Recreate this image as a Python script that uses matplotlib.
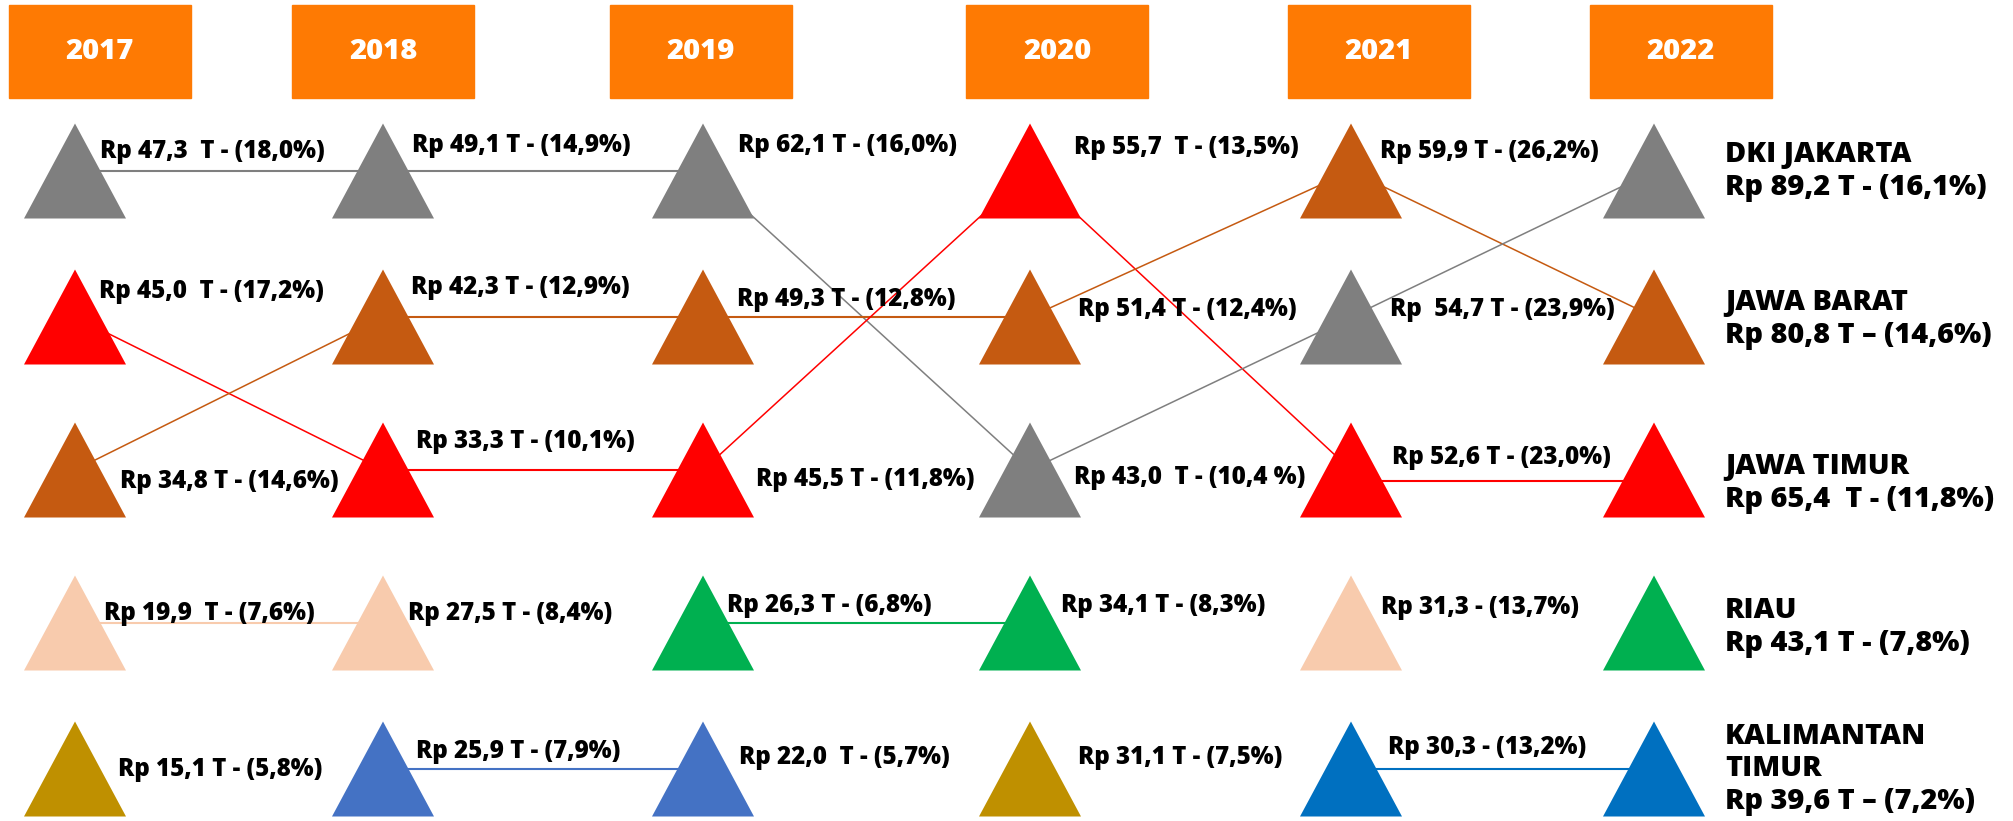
import numpy as np
import matplotlib.pyplot as plt
from matplotlib.patches import Polygon, Rectangle

plt.rcParams['font.family'] = ['Open Sans', 'DejaVu Sans']

# Data: provinsi per peringkat (atas ke bawah) tiap tahun
tahun = ['2017', '2018', '2019', '2020', '2021', '2022']

urutan_2017 = ['dki', 'jatim', 'jabar', 'peach', 'emas']
urutan_2018 = ['dki', 'jabar', 'jatim', 'peach', 'biru']
urutan_2019 = ['dki', 'jabar', 'jatim', 'riau', 'biru']
urutan_2020 = ['jatim', 'jabar', 'dki', 'riau', 'emas']
urutan_2021 = ['jabar', 'dki', 'jatim', 'peach', 'kaltim']
urutan_2022 = ['dki', 'jabar', 'jatim', 'riau', 'kaltim']
urutan = [urutan_2017, urutan_2018, urutan_2019, urutan_2020, urutan_2021, urutan_2022]

label_2017 = ['Rp 47,3  T - (18,0%)', 'Rp 45,0  T - (17,2%)', 'Rp 34,8 T - (14,6%)',
              'Rp 19,9  T - (7,6%)', 'Rp 15,1 T - (5,8%)']
label_2018 = ['Rp 49,1 T - (14,9%)', 'Rp 42,3 T - (12,9%)', 'Rp 33,3 T - (10,1%)',
              'Rp 27,5 T - (8,4%)', 'Rp 25,9 T - (7,9%)']
label_2019 = ['Rp 62,1 T - (16,0%)', 'Rp 49,3 T - (12,8%)', 'Rp 45,5 T - (11,8%)',
              'Rp 26,3 T - (6,8%)', 'Rp 22,0  T - (5,7%)']
label_2020 = ['Rp 55,7  T - (13,5%)', 'Rp 51,4 T - (12,4%)', 'Rp 43,0  T - (10,4 %)',
              'Rp 34,1 T - (8,3%)', 'Rp 31,1 T - (7,5%)']
label_2021 = ['Rp 59,9 T - (26,2%)', 'Rp  54,7 T - (23,9%)', 'Rp 52,6 T - (23,0%)',
              'Rp 31,3 - (13,7%)', 'Rp 30,3 - (13,2%)']
label_2022 = ['DKI JAKARTA\nRp 89,2 T - (16,1%)', 'JAWA BARAT\nRp 80,8 T – (14,6%)',
              'JAWA TIMUR\nRp 65,4  T - (11,8%)', 'RIAU\nRp 43,1 T - (7,8%)',
              'KALIMANTAN\nTIMUR\nRp 39,6 T – (7,2%)']
label = [label_2017, label_2018, label_2019, label_2020, label_2021, label_2022]

warna = {'dki': '#7f7f7f', 'jabar': '#c55a11', 'jatim': '#ff0000', 'peach': '#f8cbad',
         'riau': '#00b050', 'emas': '#bf9000', 'biru': '#4472c4', 'kaltim': '#0070c0'}

# Tata letak (piksel)
kol_x = [75, 383, 703, 1030, 1351, 1654]
baris_y = [171, 317, 470, 623, 769]
kotak_x = [9, 292, 610, 966, 1288, 1590]
kotak_w, kotak_h, kotak_top = 182, 93, 5
seg_w, seg_h = 102, 95
geser_garis = {(4, 'jatim'): 11}   # garis 2021-2022 sedikit lebih rendah

geser_x = [[25, 24, 45, 29, 43],
           [29, 28, 33, 25, 33],
           [35, 34, 53, 24, 36],
           [44, 48, 44, 31, 48],
           [29, 39, 41, 30, 37],
           [71, 71, 71, 71, 71]]
geser_y = [[-20, -25, 11, -10, 0],
           [-25, -30, -28, -9, -18],
           [-25, -18, 9, -17, -11],
           [-24, -8, 8, -17, -11],
           [-19, -8, -12, -15, -22],
           [0, 2, 13, 4, 0]]

fig = plt.figure(figsize=(20.13, 8.21), dpi=100)
ax = fig.add_axes([0, 0, 1, 1])
ax.set_xlim(0, 2013)
ax.set_ylim(821, 0)
ax.axis('off')

# Kotak tahun
for i, th in enumerate(tahun):
    ax.add_patch(Rectangle((kotak_x[i], kotak_top), kotak_w, kotak_h, color='#fe7a03', zorder=1))
    ax.text(kotak_x[i] + kotak_w / 2, kotak_top + kotak_h / 2, th, color='white',
            fontsize=21, fontweight='heavy', ha='center', va='center', zorder=2)

# Garis penghubung provinsi yang sama
for i in range(len(tahun) - 1):
    for r, prov in enumerate(urutan[i]):
        if prov in urutan[i + 1]:
            r2 = urutan[i + 1].index(prov)
            lw = 1.5 if r2 == r else 1.1
            dy = geser_garis.get((i, prov), 0)
            ax.plot([kol_x[i], kol_x[i + 1]], [baris_y[r] + dy, baris_y[r2] + dy],
                    color=warna[prov], lw=lw, zorder=2)

# Segitiga dan label
for i in range(len(tahun)):
    for r, prov in enumerate(urutan[i]):
        x, y = kol_x[i], baris_y[r]
        tri = Polygon([(x - seg_w / 2, y + seg_h / 2), (x + seg_w / 2, y + seg_h / 2),
                       (x, y - seg_h / 2)], closed=True, color=warna[prov], lw=0, zorder=3)
        ax.add_patch(tri)
        if i == len(tahun) - 1:
            ax.text(x + geser_x[i][r], y + geser_y[i][r], label[i][r], fontsize=20.8,
                    fontweight='heavy', ha='left', va='center', linespacing=1.18, zorder=4)
        else:
            ax.text(x + geser_x[i][r], y + geser_y[i][r], label[i][r], fontsize=17.4,
                    fontweight='heavy', ha='left', va='center', zorder=4)

fig.savefig('out.png', dpi=100)
